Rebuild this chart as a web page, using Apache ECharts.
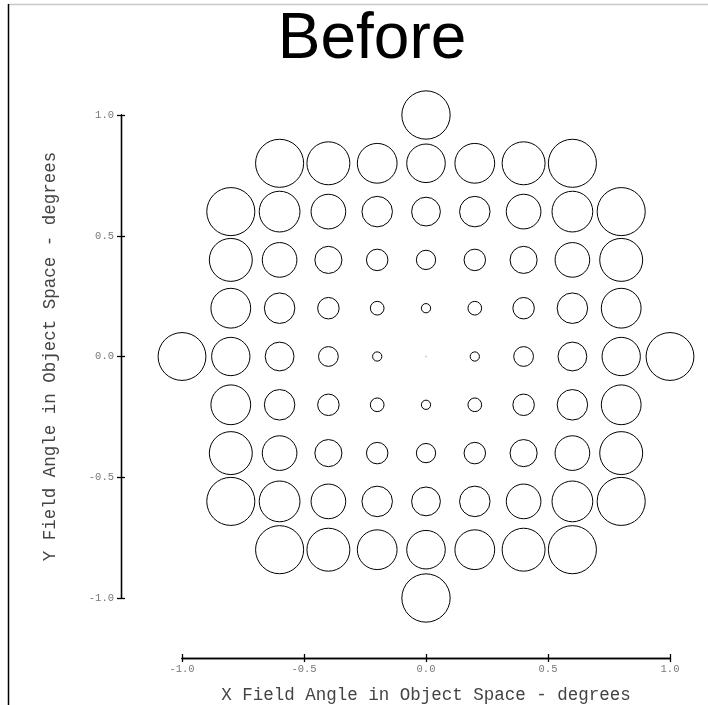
<!DOCTYPE html>
<html>
<head>
<meta charset="utf-8">
<script src="https://cdn.jsdelivr.net/npm/echarts@6/dist/echarts.min.js"></script>
<style>html,body{margin:0;padding:0;background:#fff}#c{width:708px;height:705px}</style>
</head>
<body>
<div id="c"></div>
<script>
// Field angles (degrees) of each row and the x field angles in that row
const rowY = [1.0, 0.8, 0.6, 0.4, 0.2, 0.0, -0.2, -0.4, -0.6, -0.8, -1.0];
const rowX = [
  [0.0],
  [-0.6, -0.4, -0.2, 0.0, 0.2, 0.4, 0.6],
  [-0.8, -0.6, -0.4, -0.2, 0.0, 0.2, 0.4, 0.6, 0.8],
  [-0.8, -0.6, -0.4, -0.2, 0.0, 0.2, 0.4, 0.6, 0.8],
  [-0.8, -0.6, -0.4, -0.2, 0.0, 0.2, 0.4, 0.6, 0.8],
  [-1.0, -0.8, -0.6, -0.4, -0.2, 0.0, 0.2, 0.4, 0.6, 0.8, 1.0],
  [-0.8, -0.6, -0.4, -0.2, 0.0, 0.2, 0.4, 0.6, 0.8],
  [-0.8, -0.6, -0.4, -0.2, 0.0, 0.2, 0.4, 0.6, 0.8],
  [-0.8, -0.6, -0.4, -0.2, 0.0, 0.2, 0.4, 0.6, 0.8],
  [-0.6, -0.4, -0.2, 0.0, 0.2, 0.4, 0.6],
  [0.0]
];
// Spot diameter in degrees (field-angle units) for each point
const spotDiameter = [
  [0.198],
  [0.197, 0.176, 0.163, 0.158, 0.163, 0.176, 0.197],
  [0.197, 0.167, 0.142, 0.125, 0.118, 0.125, 0.142, 0.167, 0.197],
  [0.176, 0.142, 0.111, 0.088, 0.079, 0.088, 0.111, 0.142, 0.176],
  [0.163, 0.125, 0.088, 0.056, 0.038, 0.056, 0.088, 0.125, 0.163],
  [0.196, 0.157, 0.118, 0.081, 0.038, 0.004, 0.038, 0.081, 0.118, 0.157, 0.196],
  [0.163, 0.125, 0.088, 0.056, 0.038, 0.056, 0.088, 0.125, 0.163],
  [0.176, 0.142, 0.111, 0.088, 0.079, 0.088, 0.111, 0.142, 0.176],
  [0.197, 0.167, 0.142, 0.125, 0.118, 0.125, 0.142, 0.167, 0.197],
  [0.197, 0.176, 0.163, 0.158, 0.163, 0.176, 0.197],
  [0.198]
];
const axisTicks = [-1.0, -0.5, 0.0, 0.5, 1.0];
const titleText = 'Before';
const xName = 'X Field Angle in Object Space - degrees';
const yName = 'Y Field Angle in Object Space - degrees';

const data = [];
rowY.forEach((y, i) => rowX[i].forEach((x, j) => data.push([x, y, spotDiameter[i][j]])));

const mono = 'Liberation Mono, DejaVu Sans Mono, monospace';
const fmt = v => v.toFixed(1);
function axisCommon(extra) {
  return Object.assign({
    type: 'value', min: axisTicks[0], max: axisTicks[axisTicks.length - 1], interval: 0.5,
    splitLine: {show: false},
    axisLine: {show: true, onZero: false, lineStyle: {color: '#000', width: 1.3}},
    axisTick: {show: true, length: 4, lineStyle: {color: '#000', width: 1.3}},
  }, extra);
}

const chart = echarts.init(document.getElementById('c'), null, {renderer: 'canvas'});
chart.setOption({
  animation: false,
  backgroundColor: '#fff',
  title: {
    text: titleText, left: 367, top: 3, textAlign: 'center',
    textStyle: {fontFamily: 'Liberation Sans, Arial, sans-serif', fontSize: 64, fontWeight: 'normal', color: '#000'}
  },
  grid: {left: 182, right: 38, top: 115, bottom: 107, containLabel: false, outerBoundsMode: 'none'},
  xAxis: [
    axisCommon({
      position: 'bottom', offset: 60,
      axisLabel: {formatter: fmt, fontFamily: mono, fontSize: 10.5, color: '#777', margin: 6},
      name: xName, nameLocation: 'middle', nameGap: 28,
      nameTextStyle: {fontFamily: mono, fontSize: 17.5, color: '#444'}
    }),
    axisCommon({
      position: 'bottom', offset: 60,
      axisTick: {show: true, inside: true, length: 4, lineStyle: {color: '#000', width: 1.3}},
      axisLabel: {show: false}
    })
  ],
  yAxis: [
    axisCommon({
      position: 'left', offset: 61,
      axisLabel: {formatter: fmt, fontFamily: mono, fontSize: 10.5, color: '#777', margin: 7},
      name: yName, nameLocation: 'middle', nameGap: 62, nameRotate: 90,
      nameTextStyle: {fontFamily: mono, fontSize: 17.5, color: '#444'}
    }),
    axisCommon({
      position: 'left', offset: 61,
      axisTick: {show: true, inside: true, length: 4, lineStyle: {color: '#000', width: 1.3}},
      axisLabel: {show: false}
    })
  ],
  graphic: [
    {type: 'line', shape: {x1: 8, y1: 4.5, x2: 708, y2: 4.5}, style: {stroke: '#c8c8c8', lineWidth: 1.5}, z: 100},
    {type: 'line', shape: {x1: 8.5, y1: 4, x2: 8.5, y2: 705}, style: {stroke: '#000', lineWidth: 1.5}, z: 100}
  ],
  series: [{
    type: 'custom',
    coordinateSystem: 'cartesian2d',
    xAxisIndex: 0, yAxisIndex: 0,
    clip: false,
    data: data,
    renderItem: function (params, api) {
      const c = api.coord([api.value(0), api.value(1)]);
      const r = api.size([api.value(2), 0])[0] / 2;
      return {
        type: 'circle',
        shape: {cx: c[0], cy: c[1], r: Math.max(r, 0.5)},
        style: {fill: 'none', stroke: r < 1 ? '#bbb' : '#000', lineWidth: 1}
      };
    }
  }]
});
</script>
</body>
</html>
